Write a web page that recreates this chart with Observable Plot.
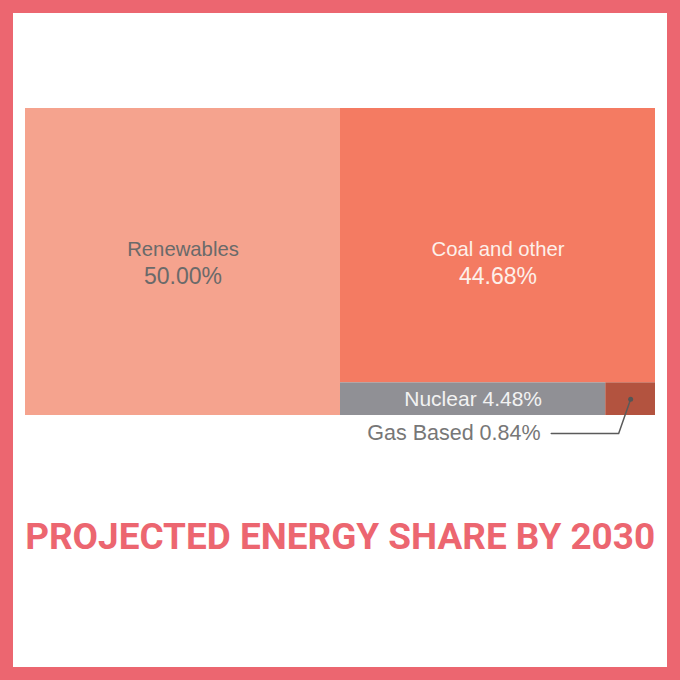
<!DOCTYPE html>
<html>
<head>
<meta charset="utf-8">
<script src="https://cdn.jsdelivr.net/npm/d3@7"></script>
<script src="https://cdn.jsdelivr.net/npm/@observablehq/plot@0.6"></script>
<style>
  html, body { margin: 0; padding: 0; background: #ffffff; }
  #frame { position: relative; width: 680px; height: 680px; box-sizing: border-box; border: 13px solid #EC6670; background: #fff; overflow: hidden; }
  #chart { position: absolute; left: -13px; top: -13px; width: 680px; }
  #chart svg { max-width: none !important; }
  #title { position: absolute; left: -13px; top: 503px; width: 680px; text-align: center; white-space: nowrap; }
  #title span { display: inline-block; font-family: Roboto, sans-serif; font-weight: 700; font-size: 36px; color: #EC6670; transform-origin: center; letter-spacing: 0px; }
</style>
</head>
<body>
<div id="frame">
  <div id="chart"></div>
  <div id="title"><span>PROJECTED ENERGY SHARE BY 2030</span></div>
</div>
<script>
// Data
const names = ["Renewables", "Coal and other", "Nuclear", "Gas Based"];
const shares = [50.00, 44.68, 4.48, 0.84];
const fills = ["#F5A38E", "#F47B62", "#909095", "#B3533F"];
const textColors = ["#6a6a6a", "#fdf0ea", "#f2f2f2", "#7a7a7a"];

// Nested grouping: Renewables | (Coal / (Nuclear | Gas))
const tree = {
  name: "root",
  children: [
    {name: names[0], value: shares[0]},
    {name: "rest", children: [
      {name: names[1], value: shares[1]},
      {name: "small", children: [
        {name: names[2], value: shares[2]},
        {name: names[3], value: shares[3]}
      ]}
    ]}
  ]
};

const root = d3.hierarchy(tree).sum(d => d.value || 0);
d3.treemap().tile(d3.treemapSliceDice).size([100, 100]).round(false)(root);
const leaves = root.leaves();
const byName = Object.fromEntries(leaves.map(d => [d.data.name, d]));
const fmt = v => d3.format(".2f")(v) + "%";
const midY = (root.y0 + root.y1) / 2;

const big = [byName["Renewables"], byName["Coal and other"]];
const nuc = byName["Nuclear"];
const gas = byName["Gas Based"];
const gx = (gas.x0 + gas.x1) / 2, gy = (gas.y0 + gas.y1) / 2;
// leader from gas cell center down-left to label
const leader = [
  {x: gx, y: gy},
  {x: gx - 1.9, y: gy + 11.2},
  {x: gx - 12.6, y: gy + 11.2}
];
const gasLabel = {x: gx - 14.3, y: gy + 11.2, text: "Gas Based " + fmt(gas.value)};

const color = d => textColors[names.indexOf(d.data.name)];

const chart = Plot.plot({
  width: 680,
  height: 470,
  marginLeft: 25,
  marginRight: 25,
  marginTop: 108,
  marginBottom: 55,
  x: {domain: [0, 100], axis: null},
  y: {domain: [0, 100], axis: null, reverse: true},
  color: {domain: names, range: fills},
  style: {fontFamily: "'Liberation Sans', Arial, sans-serif", background: "transparent"},
  marks: [
    Plot.rect(leaves, {x1: d => d.x0, x2: d => d.x1, y1: d => d.y0, y2: d => d.y1, fill: d => d.data.name}),
    Plot.text(big, {x: d => (d.x0 + d.x1) / 2, y: () => midY, text: d => d.data.name, dy: -13, fontSize: 20.3, fill: color}),
    Plot.text(big, {x: d => (d.x0 + d.x1) / 2, y: () => midY, text: d => fmt(d.value), dy: 15, fontSize: 23, fill: color, fontWeight: 300}),
    Plot.text([nuc], {x: d => (d.x0 + d.x1) / 2, y: d => (d.y0 + d.y1) / 2, text: d => d.data.name + " " + fmt(d.value), fontSize: 21, fill: color}),
    Plot.line(leader, {x: "x", y: "y", stroke: "#5a5a5a", strokeWidth: 1.5, clip: false}),
    Plot.dot([leader[0]], {x: "x", y: "y", r: 2.5, fill: "#555", stroke: null}),
    Plot.text([gasLabel], {x: "x", y: "y", text: "text", textAnchor: "end", fontSize: 21.5, fill: "#777", clip: false})
  ]
});
document.getElementById("chart").appendChild(chart);

// Fit title to the chart width (condensed look)
const span = document.querySelector("#title span");
const w = span.getBoundingClientRect().width;
span.style.transform = `scaleX(${630 / w})`;
</script>
</body>
</html>
